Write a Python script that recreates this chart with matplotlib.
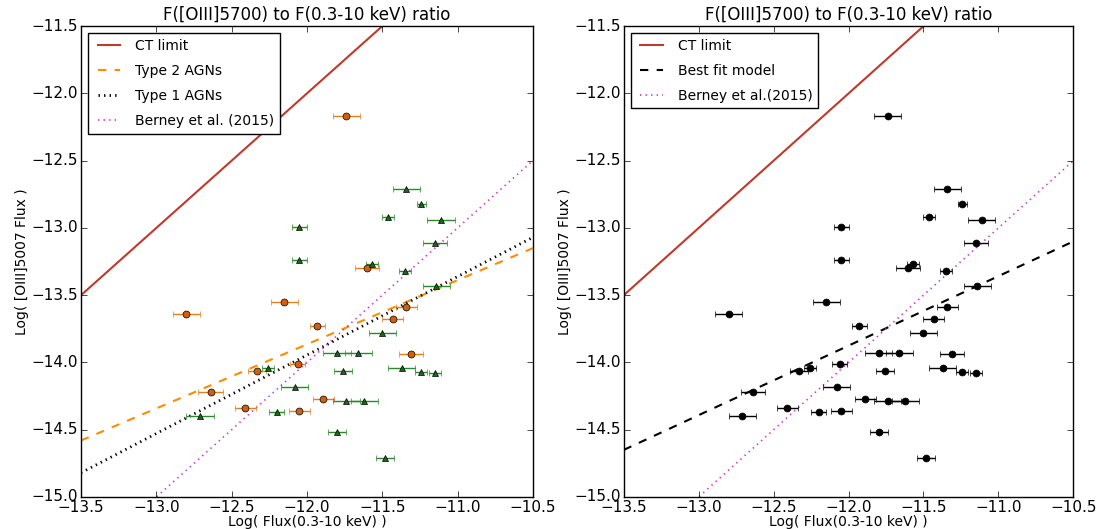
import numpy as np
import matplotlib
matplotlib.use('Agg')
import matplotlib.pyplot as plt

plt.style.use('classic')
plt.rcParams['figure.facecolor'] = 'white'
plt.rcParams['savefig.facecolor'] = 'white'

# Type 2 AGNs: log X-ray flux, log [OIII] flux, x error
t2_x = [-11.74, -11.60, -12.15, -12.80, -11.34, -11.43, -11.93, -11.31,
        -12.33, -12.06, -12.64, -11.89, -12.41, -12.05]
t2_y = [-12.17, -13.30, -13.55, -13.64, -13.59, -13.68, -13.73, -13.94,
        -14.06, -14.01, -14.22, -14.27, -14.34, -14.36]
t2_xerr = [0.09, 0.08, 0.09, 0.09, 0.07, 0.07, 0.05, 0.08,
           0.06, 0.05, 0.08, 0.07, 0.07, 0.07]

# Type 1 AGNs
t1_x = [-11.34, -11.24, -11.46, -11.11, -12.05, -11.15, -12.05, -11.57,
        -11.35, -11.14, -11.50, -11.80, -11.66, -11.37, -11.76, -11.24,
        -11.15, -12.26, -12.08, -11.74, -11.62, -12.71, -12.20, -11.80, -11.48]
t1_y = [-12.71, -12.82, -12.92, -12.94, -12.99, -13.11, -13.24, -13.27,
        -13.32, -13.43, -13.78, -13.93, -13.93, -14.04, -14.06, -14.07,
        -14.08, -14.04, -14.18, -14.29, -14.29, -14.40, -14.37, -14.52, -14.71]
t1_xerr = [0.09, 0.03, 0.04, 0.09, 0.05, 0.08, 0.05, 0.04,
           0.04, 0.09, 0.09, 0.09, 0.09, 0.09, 0.06, 0.04,
           0.04, 0.04, 0.09, 0.09, 0.09, 0.09, 0.05, 0.06, 0.06]

# lines, values at x=-13.5 and x=-10.5
line_x = [-13.5, -10.5]
ct_limit = [-13.5, -10.5]
berney = [-15.5, -12.5]
fit_type2 = [-14.58, -13.15]
fit_type1 = [-14.82, -13.07]
fit_all = [-14.65, -13.10]

fig = plt.figure(figsize=(11.02, 5.29), dpi=100)
ax1 = fig.add_axes([0.0735, 0.0605, 0.410, 0.890])
ax2 = fig.add_axes([0.566, 0.0605, 0.408, 0.890])

# left panel
ax1.plot(line_x, ct_limit, color='#c0392b', lw=1.5, label='CT limit')
ax1.plot(line_x, fit_type2, color='#ff8c00', ls='--', lw=1.5, label='Type 2 AGNs')
ax1.plot(line_x, fit_type1, color='black', ls=':', lw=2, label='Type 1 AGNs')
ax1.plot(line_x, berney, color='#cc33cc', ls=':', lw=1.2, label='Berney et al. (2015)')
ax1.errorbar(t2_x, t2_y, xerr=t2_xerr, fmt='o', color='#e08020', mfc='#d06010',
             mec='black', ms=5, ecolor='#e08020', capsize=2, lw=1)
ax1.errorbar(t1_x, t1_y, xerr=t1_xerr, fmt='^', color='#2a8a2a', mfc='#1a6a1a',
             mec='black', ms=5, ecolor='#2a8a2a', capsize=2, lw=1)
ax1.set_title('F([OIII]5700) to F(0.3-10 keV) ratio', fontsize=12)
ax1.legend(loc='upper left', fontsize=10, labelspacing=0.8, handlelength=2.2)

# right panel: all sources together
all_x = t2_x + t1_x
all_y = t2_y + t1_y
all_xerr = t2_xerr + t1_xerr
ax2.plot(line_x, ct_limit, color='#c0392b', lw=1.5, label='CT limit')
ax2.plot(line_x, fit_all, color='black', ls='--', lw=1.5, label='Best fit model')
ax2.plot(line_x, berney, color='#cc33cc', ls=':', lw=1.2, label='Berney et al.(2015)')
ax2.errorbar(all_x, all_y, xerr=all_xerr, fmt='o', color='black', ms=5,
             ecolor='black', capsize=2, lw=1)
ax2.set_title('F([OIII]5700) to F(0.3-10 keV) ratio', fontsize=12)
ax2.legend(loc='upper left', fontsize=10, labelspacing=0.8, handlelength=2.2)

for ax in (ax1, ax2):
    ax.set_xlim(-13.5, -10.5)
    ax.set_ylim(-15.0, -11.5)
    ax.set_xticks(np.arange(-13.5, -10.49, 0.5))
    ax.set_yticks(np.arange(-15.0, -11.49, 0.5))
    ax.tick_params(labelsize=11, pad=2)
    ax.set_xlabel('Log( Flux(0.3-10 keV) )', fontsize=10, labelpad=0)
    ax.set_ylabel('Log( [OIII]5007 Flux )', fontsize=10, labelpad=2)

fig.savefig('out.png', dpi=100)
